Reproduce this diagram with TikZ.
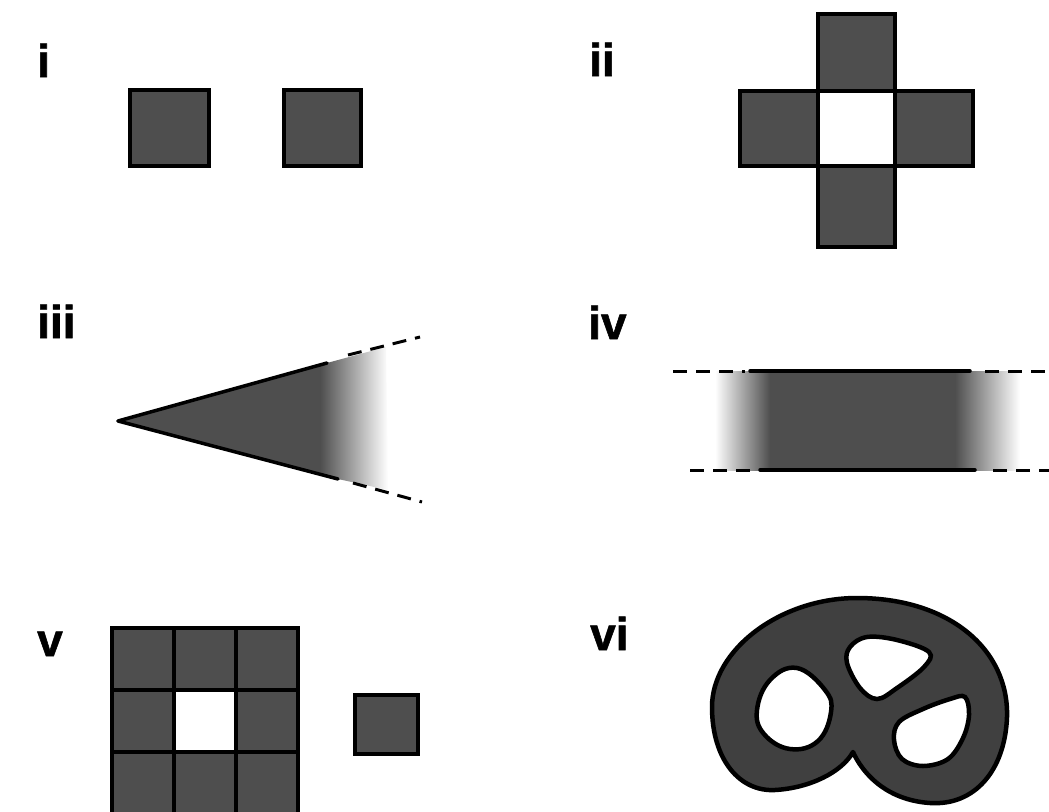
\documentclass[tikz,border=0pt]{standalone}
\usepackage{fontspec}
\setmainfont{Liberation Sans}
\newfontfamily\labfont[FakeBold=1.2]{Liberation Sans Bold}
\definecolor{sqgray}{RGB}{78,78,78}
\definecolor{blobgray}{RGB}{64,64,64}
\begin{document}
\begin{tikzpicture}[x=1pt,y=-1pt,
  lab/.style={font=\fontsize{46}{46}\labfont, anchor=base west, inner sep=0pt},
  sq/.style={draw=black, fill=sqgray, line width=3.5pt},
  hole/.style={draw=black, fill=white, line width=4.5pt},
  edge/.style={line width=3.5pt, line cap=round},
  dsh/.style={line width=3pt, dash pattern=on 14pt off 9pt}]
\useasboundingbox (0,0) rectangle (1049,811);
\fill[white] (0,0) rectangle (1049,811);

% labels
\node[lab] (li) at (37,77) {i};
\node[lab] (lii) at (589,76) {ii};
\node[lab] (liii) at (37,338) {iii};
\node[lab] (liv) at (588,339) {iv};
\node[lab] (lv) at (37,656) {v};
\node[lab] (lvi) at (590,650) {vi};

% panel i
\draw[sq] (130,90) rectangle (209,166);
\draw[sq] (284,90) rectangle (361,166);

% panel ii
\draw[sq] (818,14) rectangle (895,91);
\draw[sq] (740,91) rectangle (818,166);
\draw[sq] (895,91) rectangle (973,166);
\draw[sq] (818,166) rectangle (895,247);

% panel iii
\fill[sqgray] (118,421) -- (327,363) -- (338,479) -- cycle;
\shade[left color=sqgray, right color=white] (320,365) -- (327,363) -- (386,347) -- (388,490) -- (338,479) -- (320,474) -- cycle;
\draw[edge] (118,421) -- (327,363);
\draw[edge] (118,421) -- (338,479);
\draw[dsh] (348,355) -- (420,337);
\draw[dsh] (353,483) -- (422,502);

% panel iv
\fill[sqgray] (760,371) rectangle (965,470);
\shade[left color=white, right color=sqgray] (715,371) rectangle (770,470);
\shade[left color=sqgray, right color=white] (955,371) rectangle (1020,470);
\draw[edge] (750,371) -- (970,371);
\draw[edge] (760,470) -- (975,470);
\draw[dsh] (673,371) -- (745,371);
\draw[dsh] (985,371) -- (1049,371);
\draw[dsh] (690,470) -- (755,470);
\draw[dsh] (993,470) -- (1049,470);

% panel v
\foreach \i/\x in {0/112,1/174,2/236}{
  \foreach \j/\y in {0/628,1/690,2/752}{
    \ifnum\i=1 \ifnum\j=1 \else
      \draw[sq, line width=4pt] (\x,\y) rectangle ++(62,62);
    \fi\else
      \draw[sq, line width=4pt] (\x,\y) rectangle ++(62,62);
    \fi
  }
}
\draw[sq] (355,695) rectangle (418,754);

% panel vi
\coordinate (notch) at (853,752);
\draw[draw=black, fill=blobgray, line width=4.5pt, line join=round]
  (notch) .. controls (862,772) and (885,800) .. (930,803)
  .. controls (975,806) and (1005,770) .. (1007,717)
  .. controls (1009,650) and (950,598) .. (857,598)
  .. controls (780,598) and (712,650) .. (712,707)
  .. controls (712,760) and (740,792) .. (775,790)
  .. controls (810,788) and (842,772) .. (notch) -- cycle;
\draw[hole] plot[smooth cycle, tension=0.7] coordinates {
  (797,668) (825,690) (831,712) (818,741) (790,749) (764,734) (757,710) (770,680)};
\draw[hole] plot[smooth cycle, tension=0.6] coordinates {
  (850,647) (867,637) (897,640) (929,652) (924,667) (897,688) (877,699) (860,688) (847,663)};
\draw[hole] plot[smooth cycle, tension=0.6] coordinates {
  (965,697) (969,715) (963,738) (948,759) (923,766) (902,759) (894,740) (899,722) (923,709) (950,699)};
\end{tikzpicture}
\end{document}
